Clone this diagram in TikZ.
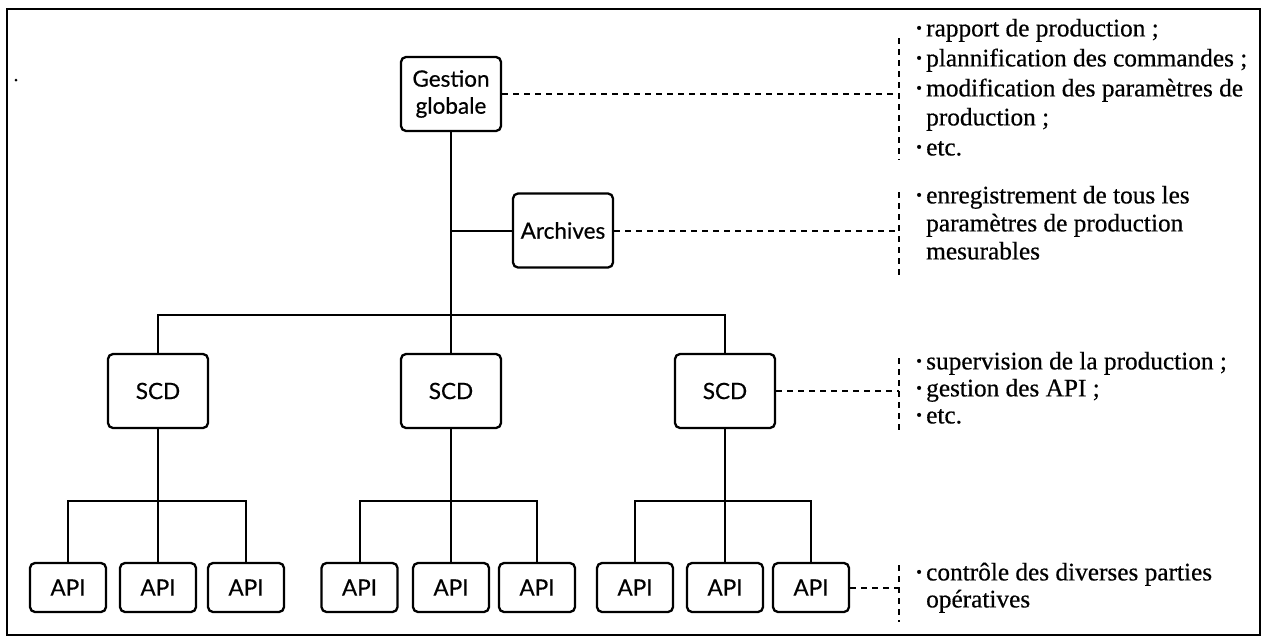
\documentclass[tikz,border=0pt]{standalone}
\usepackage{fontspec}
\usepackage{graphicx}
\setmainfont{Liberation Serif}[UprightFeatures={FakeBold=0.5}]
\newfontfamily\boxfont{Lato}[UprightFeatures={FakeBold=0.5}]
% small raised bullet followed by the text indent
\newcommand\bul{\makebox[10pt][l]{\raisebox{0.12em}{\scalebox{0.65}{\textbullet}}}}
\newcommand\ind{\hspace*{10pt}}
\begin{document}
\begin{tikzpicture}[x=1pt,y=-1pt,
  box/.style={draw,line width=2.3pt,rounded corners=5pt,inner sep=0pt,align=center,
    font=\boxfont\fontsize{22.5}{27}\selectfont},
  bigbox/.style={box,minimum width=100pt,minimum height=74pt},
  apibox/.style={box,minimum width=76pt,minimum height=49pt},
  wire/.style={line width=2pt},
  dashline/.style={line width=2pt,dash pattern=on 6pt off 5pt},
  item/.style={anchor=west,inner sep=0pt,font=\fontsize{25.3}{29}\selectfont,
    text height=0.68em,text depth=0.2em}]
\useasboundingbox (0,0) rectangle (1269,643);

% outer frame
\draw[line width=2pt] (7,9) rectangle (1260,635);
\fill (16,80) circle (1.5pt);

% hierarchy boxes
\node[bigbox] (gg) at (451,94) {Gestion\\globale};
\node[bigbox] (arch) at (563,230.5) {Archives};
\node[bigbox] (scdA) at (158,391) {SCD};
\node[bigbox] (scdB) at (451,391) {SCD};
\node[bigbox] (scdC) at (725,391) {SCD};

\node[apibox] (apiA) at (68,587.5) {API};
\node[apibox] (apiB) at (158,587.5) {API};
\node[apibox] (apiC) at (246,587.5) {API};
\node[apibox] (apiD) at (359.5,587.5) {API};
\node[apibox] (apiE) at (451,587.5) {API};
\node[apibox] (apiF) at (537,587.5) {API};
\node[apibox] (apiG) at (635,587.5) {API};
\node[apibox] (apiH) at (725,587.5) {API};
\node[apibox] (apiI) at (811,587.5) {API};

% tree connectors
\coordinate (bus) at (0,315);
\coordinate (sub) at (0,501);
\draw[wire] (gg.south) -- (scdB.north);
\draw[wire] (arch.west) -- (arch.west -| gg.south);
\draw[wire] (scdA.north) -- (scdA.north |- bus) -- (scdC.north |- bus) -- (scdC.north);

\draw[wire] (scdA.south) -- (apiB.north);
\draw[wire] (apiA.north) -- (apiA.north |- sub) -- (apiC.north |- sub) -- (apiC.north);
\draw[wire] (scdB.south) -- (apiE.north);
\draw[wire] (apiD.north) -- (apiD.north |- sub) -- (apiF.north |- sub) -- (apiF.north);
\draw[wire] (scdC.south) -- (apiH.north);
\draw[wire] (apiG.north) -- (apiG.north |- sub) -- (apiI.north |- sub) -- (apiI.north);

% dashed leaders to the descriptions
\coordinate (rail) at (899,0);
\draw[dashline] (gg.east) -- (gg.east -| rail);
\draw[dashline] (arch.east) -- (arch.east -| rail);
\draw[dashline] (scdC.east) -- (scdC.east -| rail);
\draw[dashline] (apiI.east) -- (apiI.east -| rail);
\draw[dashline] (899,38) -- (899,160);
\draw[dashline] (899,192) -- (899,276);
\draw[dashline] (899,358) -- (899,430);
\draw[dashline] (899,565) -- (899,622);

% descriptions
\node[item] (t1a) at (916,34) {\bul rapport de production ;};
\node[item] (t1b) at (916,64) {\bul plannification des commandes ;};
\node[item] (t1c) at (916,94) {\bul modification des paramètres de};
\node[item] (t1d) at (916,123) {\ind production ;};
\node[item] (t1e) at (916,153) {\bul etc.};

\node[item] (t2a) at (916,201) {\bul enregistrement de tous les};
\node[item] (t2b) at (916,229) {\ind paramètres de production};
\node[item] (t2c) at (916,257) {\ind mesurables};

\node[item] (t3a) at (916,367) {\bul supervision de la production ;};
\node[item] (t3b) at (916,394) {\bul gestion des API ;};
\node[item] (t3c) at (916,421) {\bul etc.};

\node[item] (t4a) at (916,578) {\bul contrôle des diverses parties};
\node[item] (t4b) at (916,605) {\ind opératives};
\end{tikzpicture}
\end{document}
